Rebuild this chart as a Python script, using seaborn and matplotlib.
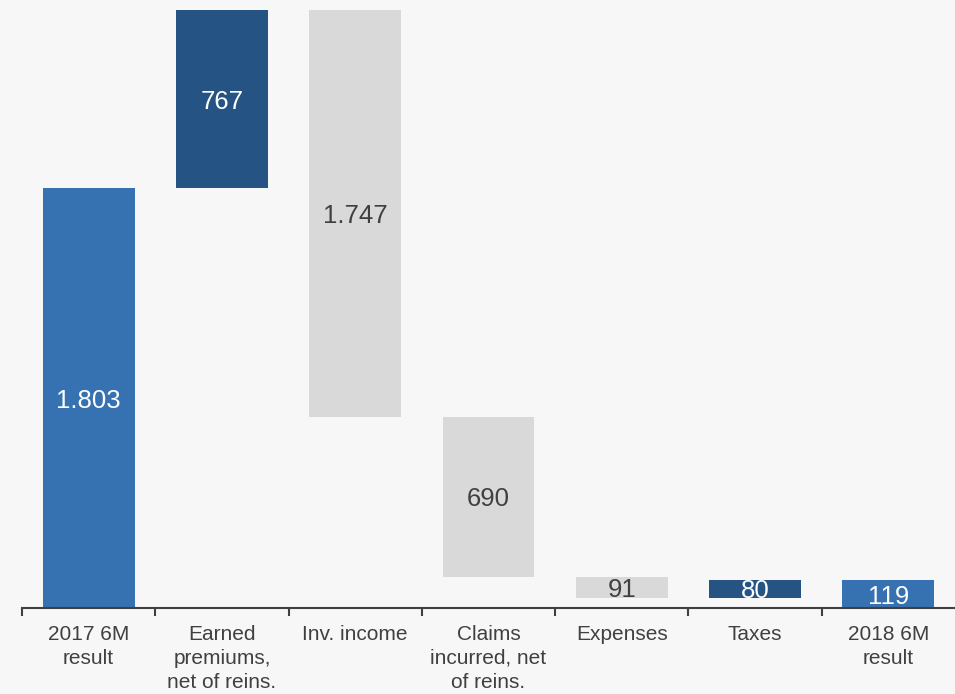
import matplotlib
matplotlib.use("Agg")
import matplotlib.pyplot as plt
import seaborn as sns
import numpy as np

# Waterfall: half-year result bridge
categories = ["2017 6M\nresult", "Earned\npremiums,\nnet of reins.", "Inv. income",
              "Claims\nincurred, net\nof reins.", "Expenses", "Taxes", "2018 6M\nresult"]
start_value = 1803
changes = [767, -1747, -690, -91, 80]
end_value = 119
value_labels = ["1.803", "767", "1.747", "690", "91", "80", "119"]

c_total = "#3671b1"
c_up = "#255484"
c_down = "#d8d9d8"
bg = "#f7f7f7"
txt = "#404040"

# bar bottoms and heights
levels = np.cumsum([start_value] + changes)
bottoms = [0]
heights = [start_value]
kinds = ["total"]
prev = start_value
for ch, lvl in zip(changes, levels[1:]):
    bottoms.append(min(prev, lvl))
    heights.append(abs(ch))
    kinds.append("up" if ch > 0 else "down")
    prev = lvl
bottoms.append(0)
heights.append(end_value)
kinds.append("total")
colors = {"total": c_total, "up": c_up, "down": c_down}

sns.set_theme(style="white")
plt.rcParams["font.family"] = ["Liberation Sans", "DejaVu Sans"]

fig = plt.figure(figsize=(9.55, 6.94), dpi=100, facecolor=bg)
ax = fig.add_axes([22 / 955, 86 / 694, 1 - 22 / 955, 598 / 694])
ax.set_facecolor(bg)

xs = list(range(len(categories)))
sns.barplot(x=xs, y=heights, bottom=bottoms, width=0.69, color=c_total,
            ax=ax, linewidth=0, order=xs)
for patch, k in zip(ax.patches, kinds):
    patch.set_facecolor(colors[k])
    patch.set_edgecolor("none")

for x, b, h, k, lab in zip(xs, bottoms, heights, kinds, value_labels):
    ax.text(x, b + h / 2, lab, ha="center", va="center_baseline", fontsize=18.5,
            color=(txt if k == "down" else "white"))

ax.set_xlim(-0.5, 6.5)
ax.set_ylim(0, levels[1])
ax.set_yticks([])
ax.set_xticks(xs)
ax.set_xticklabels(categories, fontsize=15, color=txt, linespacing=1.34)
ax.tick_params(axis="x", which="major", length=0, pad=12)
ax.set_xticks(np.arange(-0.5, 6.0, 1.0), minor=True)
ax.tick_params(axis="x", which="minor", bottom=True, length=6, width=1.5,
               color=txt, direction="out")
ax.set_xlabel("")
ax.set_ylabel("")

for s in ["top", "right", "left"]:
    ax.spines[s].set_visible(False)
ax.spines["bottom"].set_color(txt)
ax.spines["bottom"].set_linewidth(1.5)

fig.savefig("out.png", dpi=100, facecolor=bg)
